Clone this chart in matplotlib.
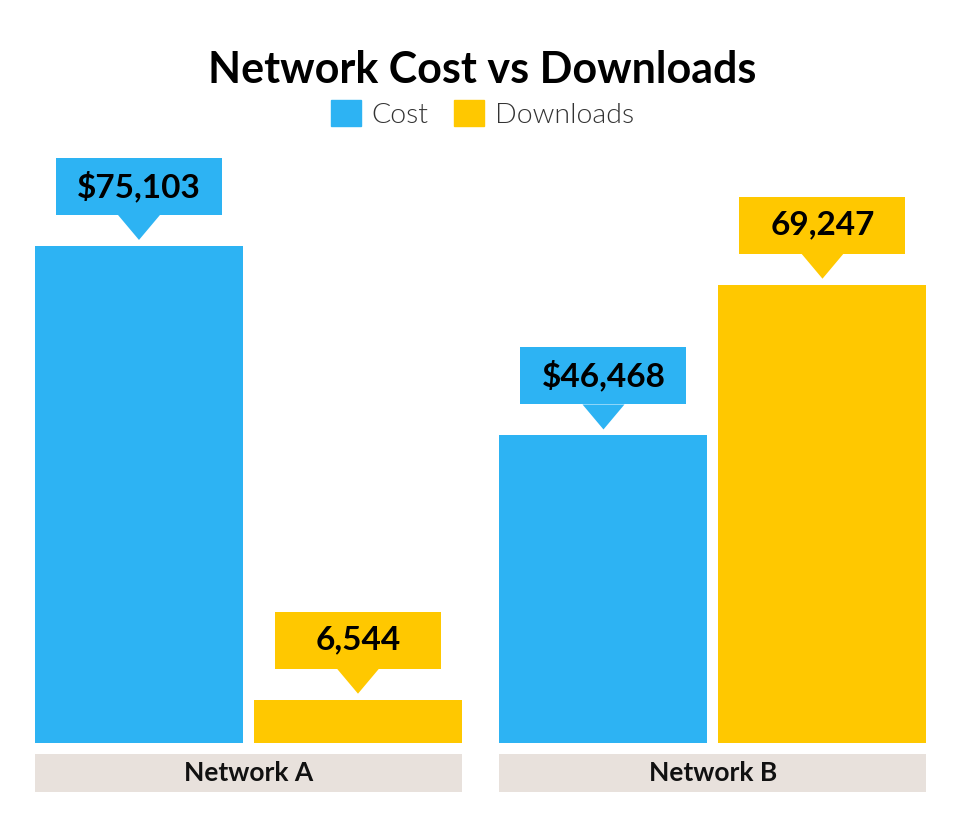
import numpy as np
import matplotlib.pyplot as plt
from matplotlib.patches import Rectangle, Polygon, Patch

# data
networks = ["Network A", "Network B"]
cost = [75103, 46468]
downloads = [6544, 69247]
cost_labels = ["$75,103", "$46,468"]
download_labels = ["6,544", "69,247"]

BLUE = "#2DB3F3"
YELLOW = "#FFC800"
GREY = "#E8E1DC"

plt.rcParams['font.family'] = ['Lato', 'DejaVu Sans']

W, H = 965, 822
fig = plt.figure(figsize=(W / 100, H / 100), dpi=100)

# axes placed in pixels: left 35, right 926, baseline at y=743, top at y=150
ax = fig.add_axes([35 / W, (H - 743) / H, 891 / W, 593 / H])
ymax = 89600
ax.set_ylim(0, ymax)
ax.set_xlim(-0.4596, 1.4586)
ax.axis('off')

# conversion of pixels to data units (for decorations only)
ux = (1.4586 + 0.4596) / 891
uy = ymax / 593

x = np.arange(len(networks))
bw = 208 * ux
off = 109.5 * ux

bars_c = ax.bar(x - off, cost, bw, color=BLUE)
bars_d = ax.bar(x + off, downloads, bw, color=YELLOW)


def callout(xc, top, text, color):
    # pointer triangle and label box above a bar
    tip = top + 6 * uy
    base = tip + 25 * uy
    ax.add_patch(Polygon([[xc - 21 * ux, base], [xc + 21 * ux, base], [xc, tip]],
                         closed=True, color=color, lw=0, clip_on=False))
    ax.add_patch(Rectangle((xc - 83 * ux, base), 166 * ux, 57 * uy,
                           color=color, lw=0, clip_on=False))
    ax.text(xc, base + 28.5 * uy, text, ha='center', va='center',
            fontsize=24, fontweight='bold', color='black')


for b, lab in zip(bars_c, cost_labels):
    callout(b.get_x() + b.get_width() / 2, b.get_height(), lab, BLUE)
for b, lab in zip(bars_d, download_labels):
    callout(b.get_x() + b.get_width() / 2, b.get_height(), lab, YELLOW)

# category boxes under each group
for xi, name in zip(x, networks):
    left = xi - off - bw / 2
    right = xi + off + bw / 2
    ax.add_patch(Rectangle((left, -49 * uy), right - left, 38 * uy,
                           color=GREY, lw=0, clip_on=False))
    ax.text(xi, -30 * uy, name, ha='center', va='center',
            fontsize=19, fontweight='bold', color='#111111')

fig.text(0.5, 1 - 70 / H, "Network Cost vs Downloads", ha='center', va='center',
         fontsize=31, fontweight='bold', color='black')

handles = [Patch(color=BLUE, label="Cost"), Patch(color=YELLOW, label="Downloads")]
leg = fig.legend(handles=handles, loc='center', bbox_to_anchor=(0.5, 1 - 114 / H),
                 ncol=2, frameon=False, fontsize=20.5, handlelength=1.05,
                 handleheight=1.05, handletextpad=0.39, columnspacing=0.9,
                 borderpad=0, borderaxespad=0)
for t in leg.get_texts():
    t.set_fontweight(300)
    t.set_color('#333333')

fig.savefig("out.png", dpi=100, facecolor='white')
